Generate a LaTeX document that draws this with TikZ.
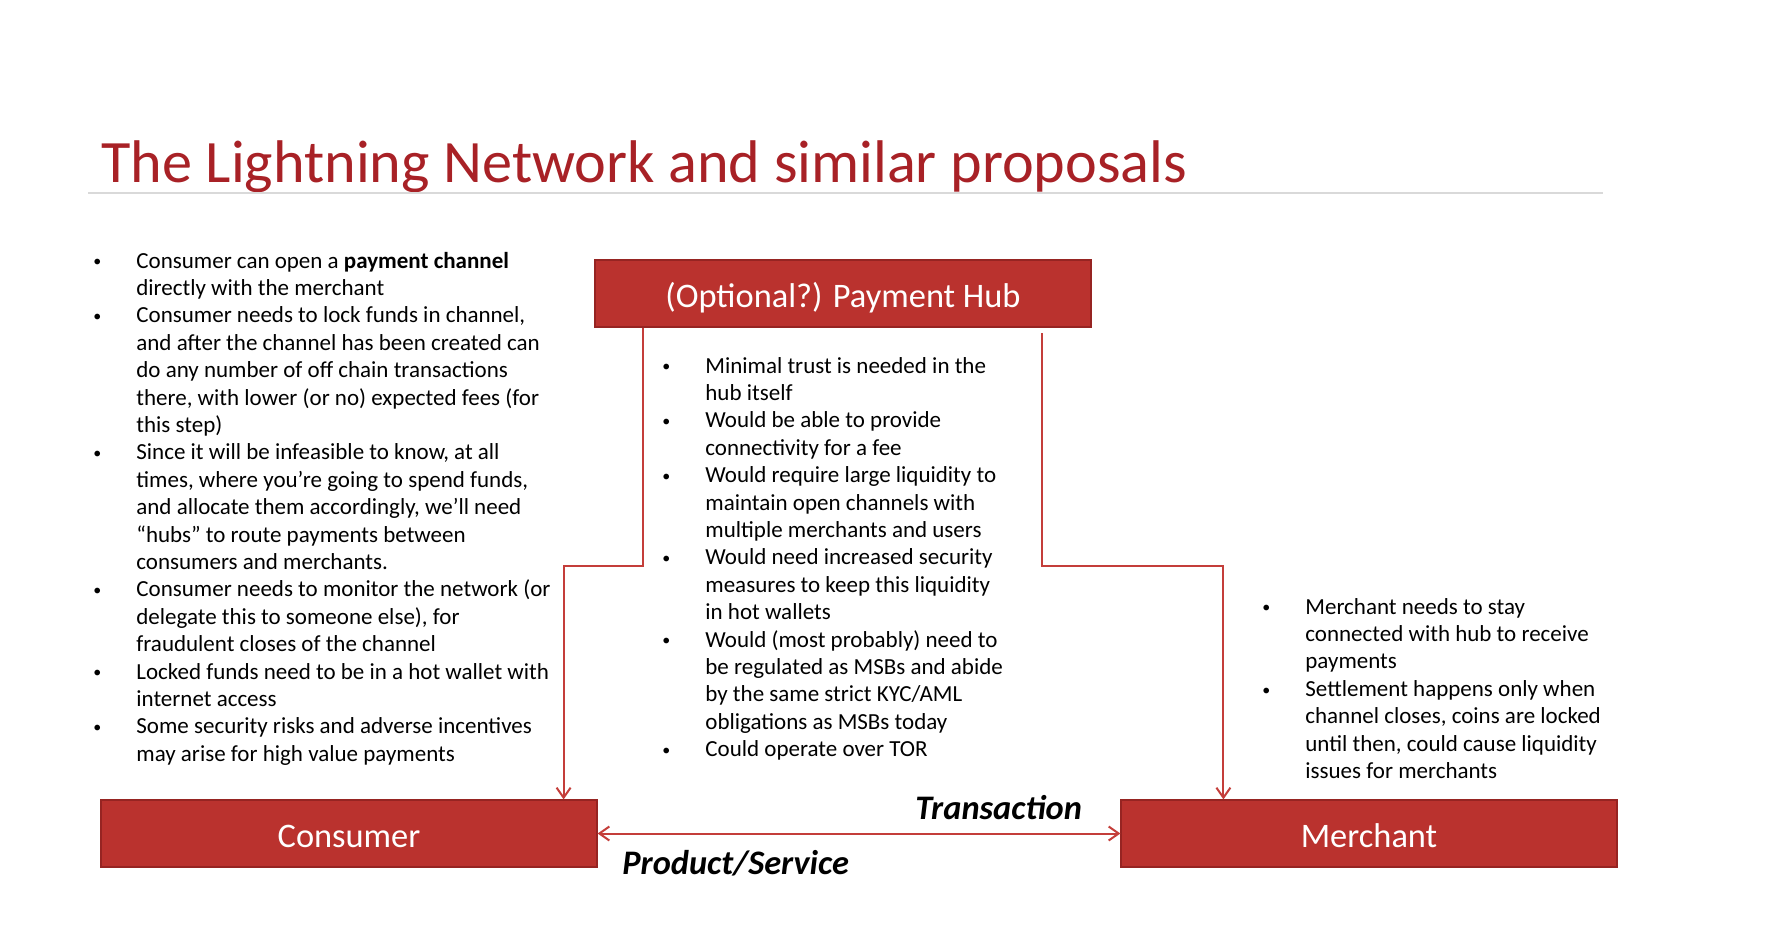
\documentclass[tikz,border=0pt]{standalone}
\usepackage{fontspec}
\setmainfont{Carlito}
\usetikzlibrary{arrows.meta}
\definecolor{boxred}{RGB}{186,50,46}
\definecolor{edgered}{RGB}{150,36,34}
\definecolor{titlered}{RGB}{168,33,38}
\definecolor{linkred}{RGB}{196,62,58}
\newcommand\bul{\llap{\makebox[21.5pt][l]{\raisebox{.6pt}{\fontsize{8}{8}\selectfont\textbullet}}}}
\newcommand\itemlines[1]{\vtop{\halign{##\hfil\cr#1\crcr}}}

\begin{document}
\begin{tikzpicture}[x=.5pt,y=-.5pt,>={Straight Barb[length=5pt,width=7pt]},
  redbox/.style={fill=boxred,draw=edgered,line width=.6pt,text=white,minimum width=248pt,minimum height=33.5pt,inner sep=0,text height=14pt,text depth=0pt,font=\fontsize{17.2}{20}\selectfont},
  notes/.style={anchor=base west,inner sep=0,font=\fontsize{11.5}{13.7}\selectfont},
  link/.style={draw=linkred,line width=1pt},
  flow/.style={anchor=base west,inner sep=0,font=\fontsize{17.2}{20}\selectfont\bfseries\itshape}]
\useasboundingbox (0,0) rectangle (1766,926);
% title and rule
\node[anchor=base west,inner sep=0,text=titlered,font=\fontsize{30.1}{36}\selectfont] (title) at (101,182) {The Lightning Network and similar proposals};
\draw[black!15,line width=1pt] (88,193)--(1603,193);
% the three parties
\node[redbox] (hub) at (843,293.5) {(Optional?) Payment Hub};
\node[redbox] (consumer) at (349,833.5) {Consumer};\node[redbox] (merchant) at (1369,833.5) {Merchant};
% notes
\node[notes] (cnotes) at (136,268) {\itemlines{\bul Consumer can open a \textbf{payment channel}\cr directly with the merchant\cr
 \bul Consumer needs to lock funds in channel,\cr and after the channel has been created can\cr do any number of off chain transactions\cr there, with lower (or no) expected fees (for\cr this step)\cr
 \bul Since it will be infeasible to know, at all\cr times, where you’re going to spend funds,\cr and allocate them accordingly, we’ll need\cr “hubs” to route payments between\cr consumers and merchants.\cr
 \bul Consumer needs to monitor the network (or\cr delegate this to someone else), for\cr fraudulent closes of the channel\cr
 \bul Locked funds need to be in a hot wallet with\cr internet access\cr
 \bul Some security risks and adverse incentives\cr may arise for high value payments}};
\node[notes] (hnotes) at (705,373) {\itemlines{\bul Minimal trust is needed in the\cr hub itself\cr
 \bul Would be able to provide\cr connectivity for a fee\cr
 \bul Would require large liquidity to\cr maintain open channels with\cr multiple merchants and users\cr
 \bul Would need increased security\cr measures to keep this liquidity\cr in hot wallets\cr
 \bul Would (most probably) need to\cr be regulated as MSBs and abide\cr by the same strict KYC/AML\cr obligations as MSBs today\cr
 \bul Could operate over TOR}};
\node[notes] (mnotes) at (1305,614) {\itemlines{\bul Merchant needs to stay\cr connected with hub to receive\cr payments\cr
 \bul Settlement happens only when\cr channel closes, coins are locked\cr until then, could cause liquidity\cr issues for merchants}};
% connectors
\coordinate (l1) at (643,566);\coordinate (r0) at (1042,333);\coordinate (r1) at (1042,566);
\draw[link,->] (hub.south-|l1)--(l1)-|([xshift=-17pt]consumer.north east);
\draw[link,->] (r0)--(r1)-|([xshift=51.5pt]merchant.north west);
\draw[link,<->] (consumer)--(merchant);
\node[flow] (tx) at (915,819) {Transaction};\node[flow] (ps) at (622,874) {Product/Service};
\end{tikzpicture}
\end{document}
